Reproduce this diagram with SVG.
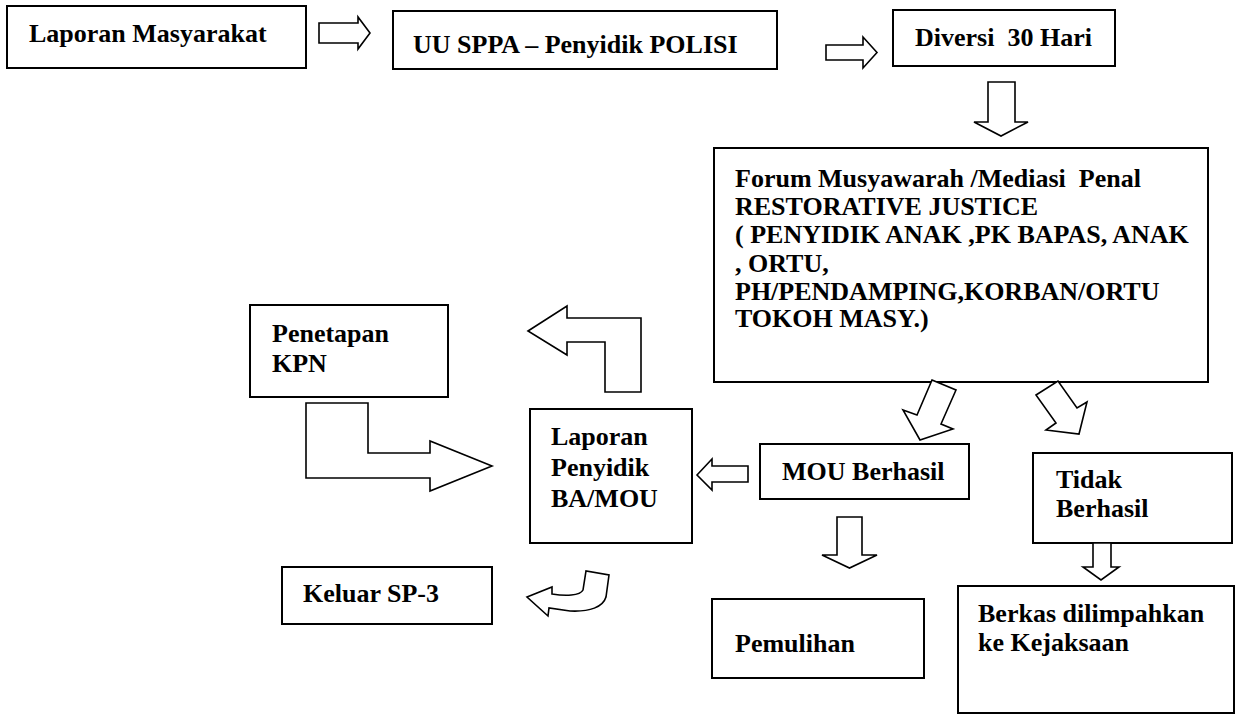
<svg xmlns="http://www.w3.org/2000/svg" width="1236" height="724" viewBox="0 0 1236 724">
<style>
.box{fill:#fff;stroke:#000;stroke-width:2}
.arr{fill:#fff;stroke:#000;stroke-width:1.6;stroke-linejoin:miter}
.t{font-family:"Liberation Serif","Times New Roman",serif;font-weight:bold;font-size:26px;fill:#000;white-space:pre}
</style>
<rect width="1236" height="724" fill="#fff"/>
<g id="n1"><rect class="box" x="7" y="6" width="299" height="62"/><text class="t" x="29" y="42">Laporan Masyarakat</text></g>
<g id="n2"><rect class="box" x="393" y="11" width="384" height="58"/><text class="t" x="413" y="53">UU SPPA – Penyidik POLISI</text></g>
<g id="n3"><rect class="box" x="893" y="10" width="222" height="56"/><text class="t" x="915" y="46">Diversi  30 Hari</text></g>
<g id="n4"><rect class="box" x="714" y="148" width="494" height="234"/>
<text class="t" x="735" y="187">Forum Musyawarah /Mediasi  Penal</text>
<text class="t" x="735" y="215">RESTORATIVE JUSTICE</text>
<text class="t" x="735" y="243">( PENYIDIK ANAK ,PK BAPAS, ANAK</text>
<text class="t" x="735" y="272">, ORTU,</text>
<text class="t" x="735" y="300">PH/PENDAMPING,KORBAN/ORTU</text>
<text class="t" x="735" y="327">TOKOH MASY.)</text></g>
<g id="n5"><rect class="box" x="250" y="305" width="198" height="92"/><text class="t" x="272" y="342">Penetapan</text><text class="t" x="272" y="372">KPN</text></g>
<g id="n6"><rect class="box" x="530" y="409" width="162" height="134"/><text class="t" x="551" y="445">Laporan</text><text class="t" x="551" y="476">Penyidik</text><text class="t" x="551" y="507">BA/MOU</text></g>
<g id="n7"><rect class="box" x="760" y="444" width="209" height="55"/><text class="t" x="782" y="480">MOU Berhasil</text></g>
<g id="n8"><rect class="box" x="1033" y="453" width="199" height="90"/><text class="t" x="1056" y="488">Tidak</text><text class="t" x="1056" y="517">Berhasil</text></g>
<g id="n9"><rect class="box" x="958" y="586" width="276" height="127"/><text class="t" x="978" y="622">Berkas dilimpahkan</text><text class="t" x="978" y="651">ke Kejaksaan</text></g>
<g id="n10"><rect class="box" x="282" y="567" width="210" height="57"/><text class="t" x="303" y="602">Keluar SP-3</text></g>
<g id="n11"><rect class="box" x="712" y="599" width="212" height="79"/><text class="t" x="735" y="652">Pemulihan</text></g>
<g id="connectors">
<polygon class="arr" points="319,23 358,23 358,17 370,33 358,49 358,43 319,43"/>
<polygon class="arr" points="826,45 863,45 863,37 877,52.5 863,68 863,60 826,60"/>
<polygon class="arr" points="988,82 1015,82 1015,122 1028,122 1001,136 974,122 988,122"/>
<polygon class="arr" points="932,380 956,390 941,424 953,429 920,440 903,410 917,415"/>
<polygon class="arr" points="1036,395 1058,381 1077,408 1087,402 1079,434 1046,430 1056,423"/>
<polygon class="arr" points="306,403 368,403 368,453 430,453 430,441 492,466 430,491 430,478 306,478"/>
<polygon class="arr" points="528,331 567,306 567,318 641,318 641,392 605,392 605,342 567,342 567,355"/>
<polygon class="arr" points="697,475 712,459 712,466 748,466 748,482 712,482 712,490"/>
<polygon class="arr" points="837,517 862,517 862,555 877,555 849.5,568 822,555 837,555"/>
<polygon class="arr" points="1093,543 1111,543 1111,567 1119,567 1101,580 1083,567 1093,567"/>
<path class="arr" d="M527,597 L552,587 L552,594 C565,596 580,596 583,590 L586,571 L609,575 L606,597 C603,607 590,612 570,611 L549,608 L548,616 Z"/>
</g>
</svg>
